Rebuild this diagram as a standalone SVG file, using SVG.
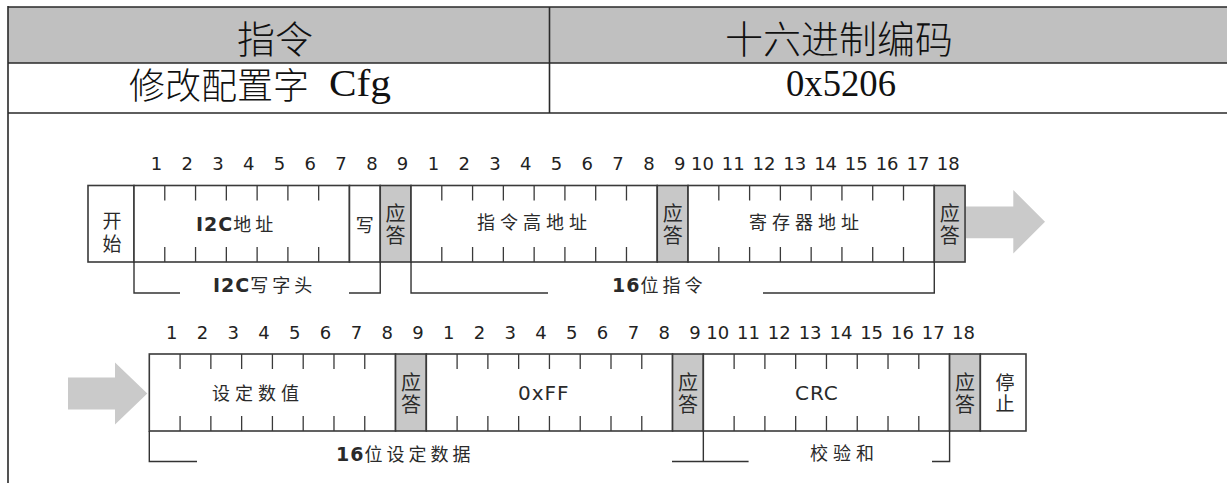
<svg xmlns="http://www.w3.org/2000/svg" width="1227" height="483" viewBox="0 0 1227 483">
<style>
.tl{stroke:#2a2a2a;stroke-width:1.6;fill:none}
.hdr{font-family:"Noto Sans CJK SC",sans-serif;font-size:38px;font-weight:300;fill:#111;text-anchor:middle}
.cell{font-family:"Noto Sans CJK SC",sans-serif;font-size:36px;font-weight:300;fill:#111}
.mono{font-family:"Liberation Serif","Noto Sans CJK SC",serif;font-size:37px;fill:#111}
.box{fill:#fff;stroke:#3a3a3a;stroke-width:1.6}
.ack{fill:#c8c8c8;stroke:#3a3a3a;stroke-width:1.6}
.tick{stroke:#3a3a3a;stroke-width:1.3}
.num{font-family:"DejaVu Sans",Verdana,sans-serif;font-size:18px;fill:#222;text-anchor:middle}
.lbl{font-family:"Noto Sans CJK SC",sans-serif;font-size:18px;fill:#2a2a2a;letter-spacing:4px}
.lat{font-family:"DejaVu Sans",Verdana,sans-serif;font-size:19px;letter-spacing:1px}
.cj{font-family:"Noto Sans CJK SC",sans-serif;font-size:18px;fill:#2a2a2a;letter-spacing:5px}
.v{font-family:"Noto Sans CJK SC",sans-serif;font-size:20px;fill:#2a2a2a;text-anchor:middle;dominant-baseline:central}
.b{font-weight:bold}
.br{stroke:#333;stroke-width:1.4;fill:none}
.arr{fill:#cacaca}
</style>

<g id="table">
  <rect x="8" y="7" width="1225" height="56" fill="#c0c0c0"/>
  <path class="tl" d="M8,7 H1227 M8,63 H1227 M8,113 H1227 M8,6 V483 M549.5,7 V113"/>
  <text class="hdr" x="275" y="53">指令</text>
  <text class="hdr" x="839" y="53">十六进制编码</text>
  <text class="cell" x="129" y="99">修改配置字</text>
  <text class="mono" x="329" y="96" textLength="62" lengthAdjust="spacingAndGlyphs">Cfg</text>
  <text class="mono" x="786" y="96" textLength="110" lengthAdjust="spacingAndGlyphs">0x5206</text>
</g>

<g id="row1-numbers">
  <text class="num" x="156.4" y="170">1</text>
  <text class="num" x="187.2" y="170">2</text>
  <text class="num" x="218" y="170">3</text>
  <text class="num" x="248.7" y="170">4</text>
  <text class="num" x="279.5" y="170">5</text>
  <text class="num" x="310.3" y="170">6</text>
  <text class="num" x="341.1" y="170">7</text>
  <text class="num" x="371.9" y="170">8</text>
  <text class="num" x="402.6" y="170">9</text>
  <text class="num" x="433.4" y="170">1</text>
  <text class="num" x="464.2" y="170">2</text>
  <text class="num" x="495" y="170">3</text>
  <text class="num" x="525.8" y="170">4</text>
  <text class="num" x="556.5" y="170">5</text>
  <text class="num" x="587.3" y="170">6</text>
  <text class="num" x="618.1" y="170">7</text>
  <text class="num" x="648.9" y="170">8</text>
  <text class="num" x="679.7" y="170">9</text>
  <text class="num" x="702.4" y="170">10</text>
  <text class="num" x="733.2" y="170">11</text>
  <text class="num" x="764" y="170">12</text>
  <text class="num" x="794.8" y="170">13</text>
  <text class="num" x="825.6" y="170">14</text>
  <text class="num" x="856.3" y="170">15</text>
  <text class="num" x="887.1" y="170">16</text>
  <text class="num" x="917.9" y="170">17</text>
  <text class="num" x="948.2" y="170">18</text>
</g>

<g id="start">
  <rect class="box" x="88" y="185.5" width="46" height="76.5"/>
  <text class="v" x="112" y="219" style="font-size:19px">开</text>
  <text class="v" x="112" y="242" style="font-size:19px">始</text>
</g>
<g id="i2c-addr">
  <rect class="box" x="134" y="185.5" width="215.46" height="76.5"/>
  <path class="tick" d="M164.78,185.5 V200.5 M195.56,185.5 V200.5 M226.34,185.5 V200.5 M257.12,185.5 V200.5 M287.9,185.5 V200.5 M318.68,185.5 V200.5 M164.78,247 V262 M195.56,247 V262 M226.34,247 V262 M257.12,247 V262 M287.9,247 V262 M318.68,247 V262"/>
  <text class="lbl" x="196" y="231"><tspan class="lat b">I2C</tspan>地址</text>
</g>
<g id="write">
  <rect class="box" x="349.46" y="185.5" width="30.78" height="76.5"/>
  <text class="v" x="364.8" y="224" style="font-size:18px">写</text>
</g>
<g id="ack1">
  <rect class="ack" x="380.24" y="185.5" width="30.78" height="76.5"/>
  <text class="v" x="395.6" y="212">应</text>
  <text class="v" x="395.6" y="234">答</text>
</g>
<g id="cmd-high">
  <rect class="box" x="411.02" y="185.5" width="246.24" height="76.5"/>
  <path class="tick" d="M441.8,185.5 V200.5 M472.58,185.5 V200.5 M503.36,185.5 V200.5 M534.14,185.5 V200.5 M564.92,185.5 V200.5 M595.7,185.5 V200.5 M626.48,185.5 V200.5 M441.8,247 V262 M472.58,247 V262 M503.36,247 V262 M534.14,247 V262 M564.92,247 V262 M595.7,247 V262 M626.48,247 V262"/>
  <text class="cj" x="477" y="229">指令高地址</text>
</g>
<g id="ack2">
  <rect class="ack" x="657.26" y="185.5" width="30.78" height="76.5"/>
  <text class="v" x="672.65" y="212">应</text>
  <text class="v" x="672.65" y="234">答</text>
</g>
<g id="reg-addr">
  <rect class="box" x="688.04" y="185.5" width="246.24" height="76.5"/>
  <path class="tick" d="M718.82,185.5 V200.5 M749.6,185.5 V200.5 M780.38,185.5 V200.5 M811.16,185.5 V200.5 M841.94,185.5 V200.5 M872.72,185.5 V200.5 M903.5,185.5 V200.5 M718.82,247 V262 M749.6,247 V262 M780.38,247 V262 M811.16,247 V262 M841.94,247 V262 M872.72,247 V262 M903.5,247 V262"/>
  <text class="cj" x="749" y="229">寄存器地址</text>
</g>
<g id="ack3">
  <rect class="ack" x="934.28" y="185.5" width="30.78" height="76.5"/>
  <text class="v" x="949.67" y="212">应</text>
  <text class="v" x="949.67" y="234">答</text>
</g>
<g id="arrow1">
  <polygon class="arr" points="966,206.5 1013.3,206.5 1013.3,190 1045,221.7 1013.3,253.4 1013.3,238.3 966,238.3"/>
</g>

<g id="row2-numbers">
  <text class="num" x="171.7" y="339">1</text>
  <text class="num" x="202.5" y="339">2</text>
  <text class="num" x="233.3" y="339">3</text>
  <text class="num" x="264" y="339">4</text>
  <text class="num" x="294.8" y="339">5</text>
  <text class="num" x="325.6" y="339">6</text>
  <text class="num" x="356.4" y="339">7</text>
  <text class="num" x="387.2" y="339">8</text>
  <text class="num" x="417.9" y="339">9</text>
  <text class="num" x="448.7" y="339">1</text>
  <text class="num" x="479.5" y="339">2</text>
  <text class="num" x="510.3" y="339">3</text>
  <text class="num" x="541.1" y="339">4</text>
  <text class="num" x="571.8" y="339">5</text>
  <text class="num" x="602.6" y="339">6</text>
  <text class="num" x="633.4" y="339">7</text>
  <text class="num" x="664.2" y="339">8</text>
  <text class="num" x="695" y="339">9</text>
  <text class="num" x="717.7" y="339">10</text>
  <text class="num" x="748.5" y="339">11</text>
  <text class="num" x="779.3" y="339">12</text>
  <text class="num" x="810.1" y="339">13</text>
  <text class="num" x="840.9" y="339">14</text>
  <text class="num" x="871.6" y="339">15</text>
  <text class="num" x="902.4" y="339">16</text>
  <text class="num" x="933.2" y="339">17</text>
  <text class="num" x="963.5" y="339">18</text>
</g>

<g id="arrow2">
  <polygon class="arr" points="68,377.5 115,377.5 115,362.5 147.3,393.5 115,424.5 115,409.5 68,409.5"/>
</g>
<g id="set-value">
  <rect class="box" x="149.3" y="354" width="246.24" height="77"/>
  <path class="tick" d="M180.08,354 V369 M210.86,354 V369 M241.64,354 V369 M272.42,354 V369 M303.2,354 V369 M333.98,354 V369 M364.76,354 V369 M180.08,416 V431 M210.86,416 V431 M241.64,416 V431 M272.42,416 V431 M303.2,416 V431 M333.98,416 V431 M364.76,416 V431"/>
  <text class="cj" x="212" y="400">设定数值</text>
</g>
<g id="ack4">
  <rect class="ack" x="395.54" y="354" width="30.78" height="77"/>
  <text class="v" x="410.9" y="381">应</text>
  <text class="v" x="410.9" y="403">答</text>
</g>
<g id="ff">
  <rect class="box" x="426.32" y="354" width="246.24" height="77"/>
  <path class="tick" d="M457.1,354 V369 M487.88,354 V369 M518.66,354 V369 M549.44,354 V369 M580.22,354 V369 M611,354 V369 M641.78,354 V369 M457.1,416 V431 M487.88,416 V431 M518.66,416 V431 M549.44,416 V431 M580.22,416 V431 M611,416 V431 M641.78,416 V431"/>
  <text class="lat" x="518" y="400" fill="#2a2a2a" style="font-size:20px">0xFF</text>
</g>
<g id="ack5">
  <rect class="ack" x="672.56" y="354" width="30.78" height="77"/>
  <text class="v" x="687.95" y="381">应</text>
  <text class="v" x="687.95" y="403">答</text>
</g>
<g id="crc">
  <rect class="box" x="703.34" y="354" width="246.24" height="77"/>
  <path class="tick" d="M734.12,354 V369 M764.9,354 V369 M795.68,354 V369 M826.46,354 V369 M857.24,354 V369 M888.02,354 V369 M918.8,354 V369 M734.12,416 V431 M764.9,416 V431 M795.68,416 V431 M826.46,416 V431 M857.24,416 V431 M888.02,416 V431 M918.8,416 V431"/>
  <text class="lat" x="795" y="400" fill="#2a2a2a" style="font-size:20px">CRC</text>
</g>
<g id="ack6">
  <rect class="ack" x="949.58" y="354" width="30.78" height="77"/>
  <text class="v" x="964.97" y="381">应</text>
  <text class="v" x="964.97" y="403">答</text>
</g>
<g id="stop">
  <rect class="box" x="980.36" y="354" width="45.64" height="77"/>
  <text class="v" x="1005" y="381" style="font-size:19px">停</text>
  <text class="v" x="1005" y="402" style="font-size:19px">止</text>
</g>

<g id="connectors">
  <path class="br" d="M134,262 V293 H180 M349,293 H380.24 V262"/>
  <path class="br" d="M411.02,262 V293 H548 M763,293 H934.28 V262"/>
  <path class="br" d="M149.3,431 V461.5 H197 M672,461.5 H748.6 M703.34,431 V461.5"/>
  <path class="br" d="M932,461.5 H949.58 V431"/>
</g>
<g id="bracket-labels">
  <text class="lbl" x="213" y="292"><tspan class="lat b">I2C</tspan>写字头</text>
  <text class="lbl" x="612" y="292"><tspan class="lat b">16</tspan>位指令</text>
  <text class="lbl" x="336" y="461"><tspan class="lat b">16</tspan>位设定数据</text>
  <text class="cj" x="810" y="460">校验和</text>
</g>
</svg>
